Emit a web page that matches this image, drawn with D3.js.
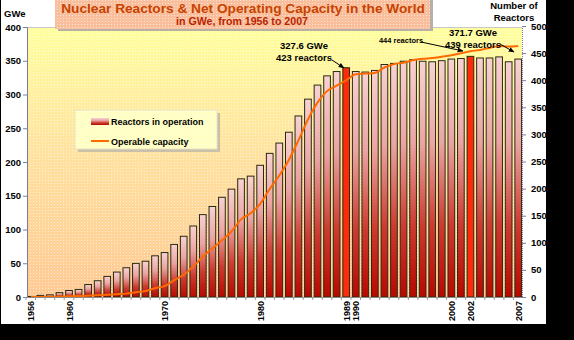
<!DOCTYPE html>
<html><head><meta charset="utf-8">
<script src="https://cdn.jsdelivr.net/npm/d3@7"></script>
<style>html,body{margin:0;padding:0;background:#000;}svg{display:block;}</style>
</head><body>
<script>
// ---- data ----
const years = [1956,1957,1958,1959,1960,1961,1962,1963,1964,1965,1966,1967,1968,1969,1970,1971,1972,1973,1974,1975,1976,1977,1978,1979,1980,1981,1982,1983,1984,1985,1986,1987,1988,1989,1990,1991,1992,1993,1994,1995,1996,1997,1998,1999,2000,2001,2002,2003,2004,2005,2006,2007];
const reactors = [1,3,4,8,12,14,23,30,38,46,54,62,66,76,82,97,112,131,152,167,184,199,218,223,243,265,284,304,334,365,391,408,416,423,416,415,418,429,431,435,438,435,434,436,439,440,444,441,441,443,434,439];
const capacity = [0.05,0.1,0.2,0.5,1,1.5,2,2.7,3.5,4.2,5,7,9,13,16,25,33,45,60,72,84,97,115,124,138,160,180,203,232,263,288,305,313,321,330,331,332,340,345,347,351,353,354,356,358,361,364,366,369,372,371,372];
const highlightYears = [1989, 2002];
const xLabelYears = [1956,1960,1970,1980,1989,1990,2000,2002,2007];
const leftTicks = [0,50,100,150,200,250,300,350,400];
const rightTicks = [0,50,100,150,200,250,300,350,400,450,500];
const titleText = "Nuclear Reactors & Net Operating Capacity in the World";
const subtitleText = "in GWe, from 1956 to 2007";
const legendLabels = ["Reactors in operation", "Operable capacity"];

const W = 574, H = 340;
const FONT = "'Liberation Sans', Arial, sans-serif";
const svg = d3.select("body").append("svg").attr("width", W).attr("height", H);
const defs = svg.append("defs");

// gradients / patterns
const bg = defs.append("linearGradient").attr("id","bg").attr("x1",0).attr("y1",0).attr("x2",0).attr("y2",1);
bg.append("stop").attr("offset",0).attr("stop-color","#ffff9e");
bg.append("stop").attr("offset",0.45).attr("stop-color","#ffe3a0");
bg.append("stop").attr("offset",1).attr("stop-color","#ffc994");
const dots = defs.append("pattern").attr("id","dots").attr("width",3).attr("height",3).attr("patternUnits","userSpaceOnUse");
dots.append("rect").attr("width",1).attr("height",1).attr("fill","#ffffff").attr("opacity",0.55);
const barG = defs.append("linearGradient").attr("id","barG").attr("x1",0).attr("y1",0).attr("x2",0).attr("y2",1);
barG.append("stop").attr("offset",0).attr("stop-color","#f8d2d2");
barG.append("stop").attr("offset",0.35).attr("stop-color","#eaa4a4");
barG.append("stop").attr("offset",0.7).attr("stop-color","#cc3a30");
barG.append("stop").attr("offset",1).attr("stop-color","#b80800");
const mk = defs.append("marker").attr("id","arr").attr("viewBox","0 0 10 10").attr("refX",9).attr("refY",5)
  .attr("markerWidth",6).attr("markerHeight",6).attr("orient","auto");
mk.append("path").attr("d","M0,1 L10,5 L0,9 Z").attr("fill","#000");

// frame
svg.append("rect").attr("width",W).attr("height",H).attr("fill","#000");
svg.append("rect").attr("x",1).attr("y",0).attr("width",545).attr("height",324).attr("fill","#fff");

// plot area
const L = 27, R = 522, T = 27, B = 297;
svg.append("rect").attr("x",L).attr("y",T).attr("width",R-L).attr("height",B-T).attr("fill","url(#bg)");
svg.append("rect").attr("x",L).attr("y",T).attr("width",R-L).attr("height",B-T).attr("fill","url(#dots)");
svg.append("line").attr("x1",L).attr("x2",R).attr("y1",T+0.5).attr("y2",T+0.5).attr("stroke","#c8c8c8");

const x = d3.scaleBand().domain(years).range([26, 523]).paddingInner(0.3).paddingOuter(0.15);
const yL = d3.scaleLinear().domain([0,400]).range([B,T]);
const yR = d3.scaleLinear().domain([0,500]).range([B,T-1]);

// bars
svg.append("g").selectAll("rect").data(years).join("rect")
  .attr("x", d => x(d)).attr("width", x.bandwidth())
  .attr("y", (d,i) => yR(reactors[i])).attr("height", (d,i) => yR(0)-yR(reactors[i]))
  .attr("fill", d => highlightYears.includes(d) ? "#ff2a0a" : "url(#barG)")
  .attr("stroke", "#2a2a10").attr("stroke-width", 1);

// line
const line = d3.line().x((d,i) => x(years[i]) + x.bandwidth()/2).y(d => yL(d)).curve(d3.curveMonotoneX);
svg.append("path").datum(capacity).attr("d", line).attr("fill","none").attr("stroke","#ff6a00").attr("stroke-width",2);

// axes
const axL = svg.append("g").attr("transform",`translate(${L},0)`).call(d3.axisLeft(yL).tickValues(leftTicks).tickSize(4).tickPadding(2));
const axR = svg.append("g").attr("transform",`translate(${R},0)`).call(d3.axisRight(yR).tickValues(rightTicks).tickSize(4).tickPadding(5));
[axL, axR].forEach(a => {
  a.select(".domain").attr("stroke","#7c7ca0").attr("stroke-dasharray", a===axR ? "1,1" : null);
  a.selectAll(".tick line").attr("stroke","#7c7ca0");
  a.selectAll("text").attr("font-family",FONT).attr("font-weight","bold").attr("font-size",9.5).attr("fill","#000");
});
// x baseline and small ticks
svg.append("line").attr("x1",L).attr("x2",R).attr("y1",B+0.5).attr("y2",B+0.5).attr("stroke","#8a8a8a");
svg.append("g").selectAll("line").data(years).join("line")
  .attr("x1", d => x(d) - x.step()*x.paddingInner()/2).attr("x2", d => x(d) - x.step()*x.paddingInner()/2)
  .attr("y1", B).attr("y2", B+3).attr("stroke","#9a9a9a");
svg.append("g").selectAll("text").data(xLabelYears).join("text")
  .attr("transform", d => `translate(${x(d)+x.bandwidth()/2+3.5},${B+4}) rotate(-90)`)
  .attr("text-anchor","end").attr("font-family",FONT).attr("font-weight","bold").attr("font-size",9)
  .text(d => d);

// axis titles
svg.append("text").attr("x",4).attr("y",17).attr("font-family",FONT).attr("font-weight","bold").attr("font-size",9.5).text("GWe");
svg.append("text").attr("x",514).attr("y",8.5).attr("text-anchor","middle").attr("font-family",FONT).attr("font-weight","bold").attr("font-size",9.5).text("Number of");
svg.append("text").attr("x",514).attr("y",20.5).attr("text-anchor","middle").attr("font-family",FONT).attr("font-weight","bold").attr("font-size",9.5).text("Reactors");

// title box
svg.append("rect").attr("x",58).attr("y",-2).attr("width",375).attr("height",33).attr("fill","#b8b0a8");
svg.append("rect").attr("x",55).attr("y",-4).attr("width",375).attr("height",33).attr("fill","#f9bf9c");
svg.append("rect").attr("x",55).attr("y",-4).attr("width",375).attr("height",33).attr("fill","url(#dots)");
function fit(t, w){ const cw = t.node().getComputedTextLength(); t.attr("font-size", +t.attr("font-size")*w/cw); return t; }
fit(svg.append("text").attr("x",243).attr("y",13).attr("text-anchor","middle").attr("font-family",FONT).attr("font-weight","bold")
  .attr("font-size",14).attr("fill","#c84200").text(titleText), 364);
fit(svg.append("text").attr("x",242).attr("y",25).attr("text-anchor","middle").attr("font-family",FONT).attr("font-weight","bold")
  .attr("font-size",10).attr("fill","#b82400").text(subtitleText), 132);

// legend
svg.append("rect").attr("x",78).attr("y",113).attr("width",142).attr("height",39).attr("fill","#c8c0a8");
svg.append("rect").attr("x",75).attr("y",110).attr("width",142).attr("height",39).attr("fill","#ffffc4").attr("stroke","#e8e0c0");
svg.append("rect").attr("x",75).attr("y",110).attr("width",142).attr("height",39).attr("fill","url(#dots)");
svg.append("rect").attr("x",91).attr("y",118).attr("width",18).attr("height",7).attr("fill","url(#barG)");
svg.append("line").attr("x1",91).attr("x2",109).attr("y1",141).attr("y2",141).attr("stroke","#ff6a00").attr("stroke-width",2);
legendLabels.forEach((s,i) => svg.append("text").attr("x",111).attr("y",124.5 + i*20).attr("font-family",FONT)
  .attr("font-weight","bold").attr("font-size",9).attr("fill","#000").text(s));

// annotations
function note(lines, cx, y0, fs){ lines.forEach((s,i)=> svg.append("text").attr("x",cx).attr("y",y0+i*12).attr("text-anchor","middle")
  .attr("font-family",FONT).attr("font-weight","bold").attr("font-size",fs).attr("fill","#000").text(s)); }
note(["327.6 GWe","423 reactors"], 304, 49, 9.5);
note(["371.7 GWe","439 reactors"], 473, 36, 9.5);
svg.append("text").attr("x",401).attr("y",43).attr("text-anchor","middle").attr("font-family","'Liberation Sans Narrow', "+FONT)
  .attr("font-weight","bold").attr("font-size",7.5).attr("fill","#000").text("444 reactors");
const arrows = [[332,60,344,68],[421,42,463,51],[500,44,514,52]];
svg.append("g").selectAll("line").data(arrows).join("line")
  .attr("x1",d=>d[0]).attr("y1",d=>d[1]).attr("x2",d=>d[2]).attr("y2",d=>d[3])
  .attr("stroke","#000").attr("stroke-width",1).attr("marker-end","url(#arr)");
</script>
</body></html>
